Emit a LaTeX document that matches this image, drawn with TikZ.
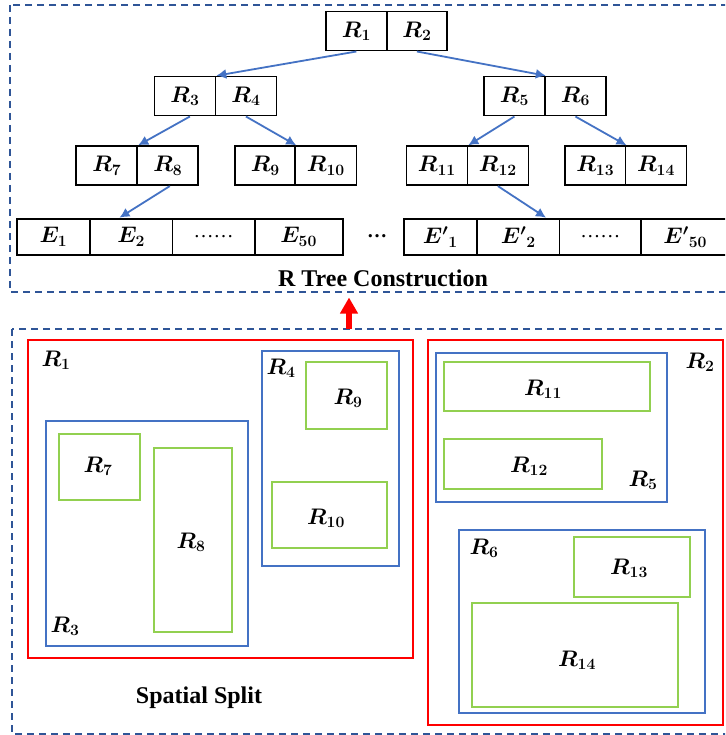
\RequirePackage{fix-cm}
\documentclass[tikz,border=0pt]{standalone}
\usepackage{bm}
\usepackage{fontspec}
\setmainfont{Liberation Serif}
\usetikzlibrary{arrows.meta,calc}
\definecolor{frameblue}{RGB}{47,85,151}
\definecolor{arrblue}{RGB}{68,114,196}
\definecolor{rred}{RGB}{255,0,0}
\definecolor{rgreen}{RGB}{146,208,80}
\begin{document}
\begin{tikzpicture}[x=1pt,y=-1pt,
  cell/.style={draw=black, line width=1.8pt, minimum height=39pt, inner sep=0pt, anchor=north west, font=\fontsize{22.5}{26}\selectfont},
  ecell/.style={cell, minimum height=36.6pt},
  tarrow/.style={draw=arrblue, line width=1.8pt, -{Latex[length=10pt,width=10pt]}},
  dframe/.style={draw=frameblue, line width=1.6pt, dash pattern=on 7pt off 5pt},
  redbox/.style={draw=rred, line width=1.8pt},
  bluebox/.style={draw=arrblue, line width=1.8pt},
  greenbox/.style={draw=rgreen, line width=1.8pt},
  lab/.style={font=\fontsize{22.5}{26}\selectfont, inner sep=0pt},
  title/.style={font=\fontsize{24}{28}\selectfont\bfseries, inner sep=0pt}
]
\clip (0,0) rectangle (725,735);
\fill[white] (0,0) rectangle (725,735);
% frames
\draw[dframe] (10,5) rectangle (760,292);
\draw[dframe] (12,329) rectangle (760,734);
% tree level 1
\node[cell, minimum width=61pt] (r1) at (325,10.7) {$\bm{R_1}$};
\node[cell, minimum width=60pt] (r2) at (386,10.7) {$\bm{R_2}$};
% level 2
\node[cell, minimum width=61pt] (r3) at (153.5,75.7) {$\bm{R_3}$};
\node[cell, minimum width=61pt] (r4) at (214.5,75.7) {$\bm{R_4}$};
\node[cell, minimum width=61pt] (r5) at (483,75.7) {$\bm{R_5}$};
\node[cell, minimum width=61pt] (r6) at (544,75.7) {$\bm{R_6}$};
% level 3
\node[cell, minimum width=61pt] (r7) at (75.4,145.3) {$\bm{R_7}$};
\node[cell, minimum width=61pt] (r8) at (136.4,145.3) {$\bm{R_8}$};
\node[cell, minimum width=60pt] (r9) at (234.4,145.3) {$\bm{R_9}$};
\node[cell, minimum width=61pt] (r10) at (294.5,145.3) {$\bm{R_{10}}$};
\node[cell, minimum width=61pt] (r11) at (405.5,145.3) {$\bm{R_{11}}$};
\node[cell, minimum width=61pt] (r12) at (466.5,145.3) {$\bm{R_{12}}$};
\node[cell, minimum width=60.6pt] (r13) at (564,145.3) {$\bm{R_{13}}$};
\node[cell, minimum width=61pt] (r14) at (624.6,145.3) {$\bm{R_{14}}$};
% leaf rows
\node[ecell, minimum width=73.5pt] (e1) at (15.7,217.7) {$\bm{E_1}$};
\node[ecell, minimum width=82.3pt] (e2) at (89.2,217.7) {$\bm{E_2}$};
\node[ecell, minimum width=82.3pt] (e3) at (171.5,217.7) {\normalfont\fontsize{20}{24}\selectfont\ldots\ldots};
\node[ecell, minimum width=87.9pt] (e4) at (253.8,217.7) {$\bm{E_{50}}$};
\node[font=\fontsize{20}{24}\selectfont\bfseries, inner sep=0pt] (gap) at (377,236) {\ldots};
\node[ecell, minimum width=73.5pt] (f1) at (402.7,217.7) {$\bm{{E'}_{1}}$};
\node[ecell, minimum width=82.3pt] (f2) at (476.2,217.7) {$\bm{{E'}_{2}}$};
\node[ecell, minimum width=81.8pt] (f3) at (558.5,217.7) {\normalfont\fontsize{20}{24}\selectfont\ldots\ldots};
\node[ecell, minimum width=88pt] (f4) at (640.3,217.7) {$\bm{{E'}_{50}}$};
% tree arrows
\draw[tarrow] (r1.south) -- (r3.north east);
\draw[tarrow] (r2.south) -- (r5.north east);
\draw[tarrow] ($(r3.south)+(5,0)$) -- (r7.north east);
\draw[tarrow] (r4.south) -- (r9.north east);
\draw[tarrow] (r5.south) -- (r11.north east);
\draw[tarrow] (r6.south) -- (r13.north east);
\draw[tarrow] ($(r8.south)+(2,0)$) -- ($(e2.north west)!0.36!(e2.north east)$);
\draw[tarrow] (r12.south) -- ($(f2.north west)!0.83!(f2.north east)$);
\node[title] (ttl) at (383,278) {R Tree Construction};
% red arrow between frames
\coordinate (rs) at (349,329);
\coordinate (re) at (349,297.5);
\draw[rred, line width=6.5pt, -{Triangle[length=16pt,width=17pt]}] (rs) -- (re);
% spatial split: left
\draw[redbox] (28,340) rectangle (413,658);
\draw[bluebox] (46,421) rectangle (248,646);
\draw[greenbox] (59,434) rectangle (140,500);
\draw[greenbox] (154,448) rectangle (232,632);
\draw[bluebox] (262,351) rectangle (399,566);
\draw[greenbox] (306,362) rectangle (387,429);
\draw[greenbox] (272,482) rectangle (387,548);
\node[lab] (l1) at (56,360) {$\bm{R_1}$};
\node[lab] (l3) at (65,626) {$\bm{R_3}$};
\node[lab] (l4) at (281,368) {$\bm{R_4}$};
\node[lab] (l7) at (98,466) {$\bm{R_7}$};
\node[lab] (l8) at (191,542) {$\bm{R_8}$};
\node[lab] (l9) at (348,398) {$\bm{R_9}$};
\node[lab] (l10) at (326,518) {$\bm{R_{10}}$};
% spatial split: right
\draw[redbox] (428,340) rectangle (723,725);
\draw[bluebox] (436,353) rectangle (667,502);
\draw[greenbox] (444,362) rectangle (650,411);
\draw[greenbox] (444,439) rectangle (602,489);
\draw[bluebox] (459,530) rectangle (705,713);
\draw[greenbox] (574,537) rectangle (690,597);
\draw[greenbox] (472,603) rectangle (678,707);
\node[lab] (l2) at (700,362) {$\bm{R_2}$};
\node[lab] (l11) at (543,389) {$\bm{R_{11}}$};
\node[lab] (l12) at (529,466) {$\bm{R_{12}}$};
\node[lab] (l5) at (643,480) {$\bm{R_5}$};
\node[lab] (l6) at (484,548) {$\bm{R_6}$};
\node[lab] (l13) at (629,568) {$\bm{R_{13}}$};
\node[lab] (l14) at (577,660) {$\bm{R_{14}}$};
\node[title] (ss) at (199,698) {Spatial Split};
\end{tikzpicture}
\end{document}
